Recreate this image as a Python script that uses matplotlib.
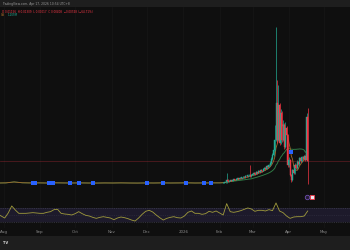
import numpy as np
import pandas as pd
import matplotlib
matplotlib.use("Agg")
import matplotlib.pyplot as plt
from matplotlib.patches import Rectangle

# ---------------- data ----------------
# quiet period, weekly closes (from 2025-07-27)
flat_start = "2025-07-27"
flat_close = [0.00034, 0.00036, 0.00052, 0.00038, 0.00035, 0.00036, 0.00034, 0.00037,
              0.00035, 0.00034, 0.00036, 0.00034, 0.00033, 0.00035, 0.00034, 0.00036,
              0.00034, 0.00033, 0.00035, 0.00034, 0.00036, 0.00034, 0.00035, 0.00037,
              0.00034, 0.00035, 0.00036, 0.00036]

# active period, daily candles (from 2026-02-04)
daily_start = "2026-02-04"
open_ = [0.00036, 0.00039, 0.00043, 0.00043, 0.00085, 0.00060, 0.00068, 0.00077, 0.00068, 0.00085,
         0.00094, 0.00085, 0.00102, 0.00111, 0.00102, 0.00119, 0.00111, 0.00128, 0.00136, 0.00128,
         0.00153, 0.00145, 0.00162, 0.00170, 0.00145, 0.00170, 0.00179, 0.00204, 0.00187, 0.00213,
         0.00204, 0.00230, 0.00221, 0.00247, 0.00238, 0.00264, 0.00289, 0.00272, 0.00315, 0.00306,
         0.00340, 0.00374, 0.00442, 0.00510, 0.00595, 0.00765, 0.01394, 0.00765, 0.01360, 0.00714,
         0.01224, 0.00765, 0.01020, 0.00646, 0.00969, 0.00850, 0.00340, 0.00425, 0.00170, 0.00085,
         0.00255, 0.00204, 0.00340, 0.00289, 0.00391, 0.00357, 0.00459, 0.00408, 0.00476, 0.00442,
         0.00493, 0.00425, 0.01156]
close = [0.00039, 0.00043, 0.00043, 0.00085, 0.00060, 0.00068, 0.00077, 0.00068, 0.00085, 0.00094,
         0.00085, 0.00102, 0.00111, 0.00102, 0.00119, 0.00111, 0.00128, 0.00136, 0.00128, 0.00153,
         0.00145, 0.00162, 0.00170, 0.00145, 0.00170, 0.00179, 0.00204, 0.00187, 0.00213, 0.00204,
         0.00230, 0.00221, 0.00247, 0.00238, 0.00264, 0.00289, 0.00272, 0.00315, 0.00306, 0.00340,
         0.00374, 0.00442, 0.00510, 0.00595, 0.00765, 0.01394, 0.00765, 0.01360, 0.00714, 0.01224,
         0.00765, 0.01020, 0.00646, 0.00969, 0.00850, 0.00340, 0.00425, 0.00170, 0.00085, 0.00255,
         0.00204, 0.00340, 0.00289, 0.00391, 0.00357, 0.00459, 0.00408, 0.00476, 0.00442, 0.00493,
         0.00425, 0.01156, 0.00408]
high = [0.00045, 0.00048, 0.00050, 0.00204, 0.00094, 0.00077, 0.00085, 0.00085, 0.00094, 0.00106,
        0.00102, 0.00111, 0.00124, 0.00119, 0.00128, 0.00128, 0.00140, 0.00150, 0.00145, 0.00165,
        0.00162, 0.00175, 0.00187, 0.00340, 0.00182, 0.00196, 0.00221, 0.00213, 0.00230, 0.00226,
        0.00247, 0.00240, 0.00264, 0.00260, 0.00281, 0.00306, 0.00300, 0.00332, 0.00330, 0.00357,
        0.00400, 0.00470, 0.00545, 0.00640, 0.01020, 0.02686, 0.01785, 0.01700, 0.01400, 0.01300,
        0.01260, 0.01100, 0.01050, 0.01071, 0.01000, 0.00870, 0.00480, 0.00440, 0.00190, 0.00280,
        0.00280, 0.00370, 0.00360, 0.00420, 0.00410, 0.00480, 0.00470, 0.00500, 0.00490, 0.00515,
        0.00500, 0.01224, 0.01309]
low = [0.00032, 0.00036, 0.00038, 0.00040, 0.00051, 0.00055, 0.00062, 0.00060, 0.00064, 0.00080,
       0.00077, 0.00080, 0.00096, 0.00094, 0.00098, 0.00102, 0.00106, 0.00119, 0.00119, 0.00124,
       0.00136, 0.00140, 0.00153, 0.00136, 0.00140, 0.00162, 0.00170, 0.00175, 0.00182, 0.00192,
       0.00196, 0.00208, 0.00213, 0.00226, 0.00230, 0.00255, 0.00260, 0.00264, 0.00289, 0.00298,
       0.00325, 0.00360, 0.00425, 0.00490, 0.00570, 0.00740, 0.00720, 0.00740, 0.00680, 0.00700,
       0.00730, 0.00740, 0.00620, 0.00630, 0.00800, 0.00300, 0.00310, 0.00150, 0.00051, 0.00070,
       0.00180, 0.00190, 0.00270, 0.00280, 0.00340, 0.00345, 0.00390, 0.00395, 0.00425, 0.00430,
       0.00410, 0.00415, 0.00017]

# signal markers
signal_dates = ["2025-08-26", "2025-08-28", "2025-09-09", "2025-09-12", "2025-09-27", "2025-10-04",
                "2025-10-16", "2025-12-01", "2025-12-15", "2026-01-03", "2026-01-19", "2026-01-25",
                "2026-04-03"]
signal_values = [0.00034, 0.00034, 0.00034, 0.00034, 0.00035, 0.00034, 0.00035, 0.00034, 0.00035,
                 0.00034, 0.00035, 0.00036, 0.00561]

# oscillator (every 3 days from 2025-07-27)
rsi_start = "2025-07-27"
rsi = [53, 47, 41, 56, 77, 65, 55, 55, 55, 56, 57, 56, 55, 55, 58, 60, 66, 67, 55, 53,
       52, 50, 54, 60, 54, 49, 47, 43, 40, 43, 45, 43, 41, 36, 41, 44, 42, 39, 35, 32,
       41, 52, 61, 64, 59, 50, 42, 35, 40, 43, 45, 42, 41, 47, 58, 62, 55, 55, 52, 54,
       61, 58, 62, 56, 50, 84, 60, 58, 60, 63, 67, 71, 68, 61, 64, 64, 62, 66, 63, 86,
       62, 57, 47, 40, 44, 45, 45, 47, 62]

month_ticks = ["2025-08-01", "2025-09-01", "2025-10-01", "2025-11-01", "2025-12-01",
               "2026-01-01", "2026-02-01", "2026-03-01", "2026-04-01", "2026-05-01"]
month_labels = ["Aug", "Sep", "Oct", "Nov", "Dec", "2026", "Feb", "Mar", "Apr", "May"]

# ---------------- figure ----------------
W, H = 350, 250
fig = plt.figure(figsize=(W / 100, H / 100), dpi=100, facecolor="#1e1e1e")
fig.patches.append(Rectangle((0, 14 / H), 1, 229 / H, transform=fig.transFigure,
                             facecolor="#0f0f0f", edgecolor="none", zorder=-10))

ax = fig.add_axes([0, 50 / H, 1, 193 / H], facecolor="none")
ax2 = fig.add_axes([0, 22 / H, 1, 28 / H], facecolor="none", sharex=ax)

flat_dates = pd.date_range(flat_start, periods=len(flat_close), freq="7D")
dates = pd.date_range(daily_start, periods=len(close), freq="D")
o = np.array(open_); c = np.array(close); hi = np.array(high); lo = np.array(low)

up_col, dn_col = "#22ab94", "#f23645"
cols = [up_col if cc >= oo else dn_col for oo, cc in zip(o, c)]

# grid
for t in month_ticks:
    ax.axvline(pd.Timestamp(t), color="#171717", lw=0.5, zorder=1)
    ax2.axvline(pd.Timestamp(t), color="#171717", lw=0.5, zorder=1)

# moving averages
ma_fast = pd.Series(c).rolling(7, min_periods=1).mean().values
ma_slow = pd.Series(c).rolling(25, min_periods=1).mean().values
xs = list(flat_dates) + list(dates)
ax.plot(xs, list(flat_close) + list(ma_slow), color="#2f7a45", lw=0.7, zorder=3)
ax.plot(xs, list(flat_close) + list(ma_fast), color="#a8682a", lw=0.6, zorder=3)

# candles
body_lo = np.minimum(o, c)
body_h = np.maximum(np.abs(c - o), 0.00004)
ax.vlines(dates, lo, hi, colors=cols, lw=0.5, zorder=4)
ax.bar(dates, body_h, bottom=body_lo, width=0.85, color=cols, edgecolor=cols, lw=0.3, zorder=5)

# price line
ax.axhline(c[-1], color="#f23645", lw=0.5, alpha=0.35, zorder=2)

# signals
ax.plot(pd.to_datetime(signal_dates), signal_values, "s", ms=2.5, color="#2962ff",
        mec="#2962ff", mew=0, zorder=6)

ax.set_xlim(pd.Timestamp("2025-07-29"), pd.Timestamp("2026-05-23"))
ax.set_ylim(-0.00255, 0.03026)

# oscillator
rsi_dates = pd.date_range(rsi_start, periods=len(rsi), freq="3D")
ax2.axhspan(30, 70, color="#1d1a2b", lw=0, zorder=1)
for lvl, a in [(70, 1.0), (50, 0.5), (30, 1.0)]:
    ax2.axhline(lvl, color="#4a4a5c", lw=0.4, ls=(0, (2, 2)), alpha=a, zorder=2)
ax2.plot(rsi_dates, rsi, color="#a09b3c", lw=0.6, zorder=3)
ax2.set_ylim(11.2, 94.8)

for a in (ax, ax2):
    for s in a.spines.values():
        s.set_visible(False)
    a.set_yticks([])
ax.tick_params(axis="x", bottom=False, labelbottom=False)
ax2.set_xticks(pd.to_datetime(month_ticks))
ax2.set_xticklabels(month_labels)
ax2.tick_params(axis="x", length=0, pad=1.3, labelsize=2.9, colors="#8a8a8a")

# texts
fig.text(2 / W, 1 - 3.6 / H, "TradingView.com, Apr 17, 2026 10:54 UTC+8", fontsize=2.2,
         color="#9a9a9a", va="center", ha="left")
chg = c[-1] - o[-1]
legend = (f"O {o[-1]:.5f}  H {hi[-1]:.5f}  L {lo[-1]:.5f}  C {c[-1]:.5f}  "
          f"{chg:+.5f} ({chg / o[-1] * 100:+.2f}%)").replace("-", "\u2212")
fig.text(2.5 / W, 1 - 11.7 / H, legend, fontsize=2.0, color="#f23645", va="center", ha="left")
fig.text(1 / W, 1 - 15.3 / H, "Vol", fontsize=2.0, color="#c77b2c", va="center", ha="left")
fig.text(8 / W, 1 - 15.3 / H, "1.205M", fontsize=2.0, color="#22ab94", va="center", ha="left")
fig.text(3 / W, 1 - 242.7 / H, "TV", fontsize=2.6, color="#d8d8d8", va="center", ha="left",
         fontweight="bold")

# UI badges near the last bar
ax.plot([307.3 / W], [1 - 196.7 / H], "o", ms=3.2, mfc="#241c33", mec="#6f4fb0", mew=0.6,
        transform=fig.transFigure, clip_on=False, zorder=7)
ax.plot([312.3 / W], [1 - 196.7 / H], "s", ms=2.6, mfc="#e8e8f0", mec="#f23645", mew=0.6,
        transform=fig.transFigure, clip_on=False, zorder=7)

fig.savefig("out.png", dpi=100, facecolor=fig.get_facecolor())
